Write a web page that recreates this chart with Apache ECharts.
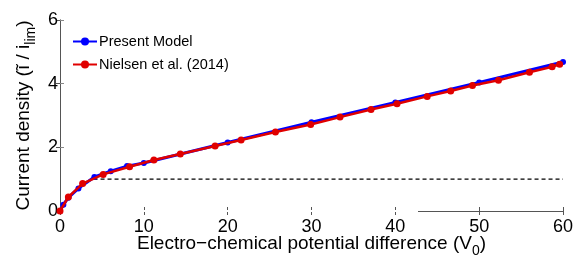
<!DOCTYPE html>
<html><head><meta charset="utf-8">
<script src="https://cdn.jsdelivr.net/npm/echarts@6/dist/echarts.min.js"></script>
<style>html,body{margin:0;padding:0;background:#fff}#c{width:581px;height:258px}</style>
</head><body><div id="c"></div>
<script>
var presentX = [0, 0.4, 1, 2.2, 4.1, 6.05, 8, 10, 20, 30, 40, 50, 60];
var presentY = [0, 0.2, 0.42, 0.71, 1.07, 1.25, 1.41, 1.51, 2.15, 2.79, 3.41, 4.04, 4.68];
var nielsenX = [0, 1, 2.7, 5.15, 8.3, 11.2, 14.35, 18.5, 21.6, 25.7, 29.9, 33.4, 37.1, 40.2, 43.8, 46.6, 49.2, 52.3, 56.0, 58.7, 59.6];
var nielsenY = [0, 0.44, 0.86, 1.15, 1.39, 1.60, 1.79, 2.04, 2.23, 2.48, 2.72, 2.95, 3.19, 3.37, 3.60, 3.77, 3.94, 4.11, 4.36, 4.53, 4.61];
var limitX = [4, 60];
var limitY = [1, 1];
var xTicks = [0, 10, 20, 30, 40, 50, 60];
var yTicks = [0, 2, 4, 6];

function pairs(xs, ys) { return xs.map(function (x, i) { return [x, ys[i]]; }); }
var FONT = 'Liberation Sans, Arial, sans-serif';
var chart = echarts.init(document.getElementById('c'), null, {renderer: 'canvas'});
chart.setOption({
  animation: false,
  grid: {left: 60, right: 18, top: 20, bottom: 47, containLabel: false, outerBoundsMode: 'none'},
  graphic: [{type: 'rect', z: 1, shape: {x: 61, y: 210, width: 357, height: 2}, style: {fill: '#fff'}, silent: true}],
  legend: {
    left: 67, top: 29, orient: 'vertical', itemGap: 8, itemWidth: 24, itemHeight: 10,
    textStyle: {fontFamily: FONT, fontSize: 14.5, color: '#000', padding: [0, 0, 0, -3]},
    data: ['Present Model', 'Nielsen et al. (2014)']
  },
  xAxis: [{
    type: 'value', min: 0, max: 60, interval: 10, position: 'bottom',
    name: 'Electro\u2212chemical potential difference (V{sub|0})',
    nameLocation: 'middle', nameGap: 19, nameMoveOverlap: false,
    nameTextStyle: {fontFamily: FONT, fontSize: 19, color: '#000',
      rich: {sub: {fontFamily: FONT, fontSize: 14, verticalAlign: 'bottom', padding: [14, 0, 0, 0]}}},
    axisLine: {show: true, lineStyle: {color: '#555', width: 1}},
    axisTick: {inside: true, length: 4, lineStyle: {color: '#555'}},
    axisLabel: {fontFamily: FONT, fontSize: 18, color: '#000', margin: 7,
      formatter: function (v) { return xTicks.indexOf(v) >= 0 ? String(v) : ''; }},
    splitLine: {show: false}
  }, {
    type: 'value', min: 0, max: 60, interval: 10, position: 'top',
    axisLine: {show: true, lineStyle: {color: '#555', width: 1}},
    axisTick: {inside: true, length: 4, lineStyle: {color: '#555'}},
    axisLabel: {show: false}, splitLine: {show: false}
  }],
  yAxis: [{
    type: 'value', min: 0, max: 6, interval: 2, position: 'left',
    name: 'Current density (\u0129 / i{sub|lim})',
    nameLocation: 'middle', nameGap: 22, nameRotate: 90, nameMoveOverlap: false,
    nameTextStyle: {fontFamily: FONT, fontSize: 19, color: '#000',
      rich: {sub: {fontFamily: FONT, fontSize: 14, verticalAlign: 'bottom', padding: [14, 0, 0, 0]}}},
    axisLine: {show: true, lineStyle: {color: '#888', width: 1}},
    axisTick: {inside: true, length: 4, lineStyle: {color: '#888'}},
    axisLabel: {fontFamily: FONT, fontSize: 18, color: '#000', margin: 2,
      formatter: function (v) { return yTicks.indexOf(v) >= 0 ? String(v) : ''; }},
    splitLine: {show: false}
  }, {
    type: 'value', min: 0, max: 6, interval: 2, position: 'right',
    axisLine: {show: true, lineStyle: {color: '#555', width: 1}},
    axisTick: {inside: true, length: 4, lineStyle: {color: '#555'}},
    axisLabel: {show: false}, splitLine: {show: false}
  }],
  series: [{
    name: 'Limit', type: 'line', data: pairs(limitX, limitY), symbol: 'none',
    lineStyle: {color: '#000', width: 1.2, type: [4, 3]}, z: 2, silent: true
  }, {
    name: 'Present Model', type: 'line', data: pairs(presentX, presentY),
    symbol: 'circle', symbolSize: 6,
    itemStyle: {color: '#0000ff'}, lineStyle: {color: '#0000ff', width: 3}, z: 3
  }, {
    name: 'Nielsen et al. (2014)', type: 'line', data: pairs(nielsenX, nielsenY),
    symbol: 'circle', symbolSize: 7,
    itemStyle: {color: '#e00000'}, lineStyle: {color: '#e00000', width: 2.5}, z: 4
  }]
});
</script></body></html>
